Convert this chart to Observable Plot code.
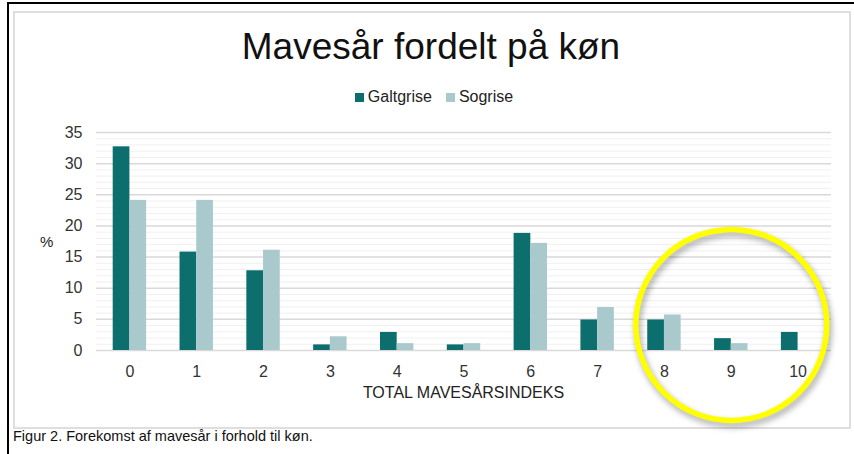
<!DOCTYPE html>
<html>
<head>
<meta charset="utf-8">
<script src="https://cdn.jsdelivr.net/npm/d3@7"></script>
<script src="https://cdn.jsdelivr.net/npm/@observablehq/plot@0.6"></script>
<style>
  html, body { margin: 0; padding: 0; background: #fff; }
  body { width: 854px; height: 454px; position: relative; overflow: hidden;
         font-family: "Liberation Sans", Arial, sans-serif; }
  .abs { position: absolute; }
  #frameL { left: 7px; top: 2px; width: 2px; height: 452px; background: #000; }
  #frameT { left: 7px; top: 2px; width: 847px; height: 2px; background: #000; }
  #box { left: 13px; top: 11px; width: 834px; height: 414px; border: 2px solid #dedede; }
  #title { left: 0; width: 862px; top: 27px; text-align: center; font-size: 37px; color: #111; line-height: 40px; }
  #legend { left: 0; width: 868px; top: 88px; text-align: center; font-size: 16px; color: #222; line-height: 18px; }
  #legend span.sw { display: inline-block; width: 9px; height: 9px; margin-right: 4px; vertical-align: 0px; }
  #legend span.item { margin: 0 7px; }
  #ylab { left: 40px; top: 233px; font-size: 15px; color: #222; }
  #xlab { left: 0; width: 927px; top: 384px; text-align: center; font-size: 16px; color: #222; }
  #caption { left: 13px; top: 428px; font-size: 14.5px; color: #111; }
  #chart { left: 0; top: 0; }
  #chart svg { overflow: visible; background: transparent; }
  #chart g[aria-label="dot"] circle { filter: drop-shadow(2px 4px 3px rgba(0,0,0,0.35)); }
</style>
</head>
<body>
<div class="abs" id="frameL"></div>
<div class="abs" id="frameT"></div>
<div class="abs" id="box"></div>
<div class="abs" id="chart"></div>
<div class="abs" id="title">Mavesår fordelt på køn</div>
<div class="abs" id="legend"></div>
<div class="abs" id="ylab">%</div>
<div class="abs" id="xlab">TOTAL MAVESÅRSINDEKS</div>
<div class="abs" id="caption">Figur 2. Forekomst af mavesår i forhold til køn.</div>
<script>
const categories = ["0","1","2","3","4","5","6","7","8","9","10"];
const seriesNames = ["Galtgrise", "Sogrise"];
const galtgrise = [32.7, 15.8, 12.8, 0.9, 2.9, 0.9, 18.8, 4.9, 4.9, 1.9, 2.9];
const sogrise   = [24.1, 24.1, 16.1, 2.2, 1.1, 1.1, 17.2, 6.9, 5.7, 1.1, 0];
const yTicks = [0, 5, 10, 15, 20, 25, 30, 35];
const yMinor = d3.range(0, 36).filter(v => v % 5 !== 0);
const colors = ["#0c6e6d", "#a9c9cd"];

const data = categories.map((c, i) => ({cat: c, galt: galtgrise[i], sog: sogrise[i]}));

// legend
const legend = document.getElementById("legend");
legend.innerHTML = seriesNames.map((n, i) =>
  `<span class="item"><span class="sw" style="background:${colors[i]}"></span>${n}</span>`).join("");

const W = 854, H = 454, mL = 96, mR = 23, mT = 132, mB = 104;
const step = (W - mL - mR) / categories.length;

const plot = Plot.plot({
  width: W,
  height: H,
  marginLeft: mL,
  marginRight: mR,
  marginTop: mT,
  marginBottom: mB,
  style: {background: "transparent", fontSize: "16px", fontFamily: "Liberation Sans, Arial, sans-serif", color: "#333", overflow: "visible"},
  x: {type: "band", domain: categories, padding: 0, round: false, tickSize: 0, tickPadding: 15, label: null},
  y: {domain: [0, 35], ticks: yTicks, tickSize: 0, tickPadding: 14, label: null},
  marks: [
    Plot.ruleY(yMinor, {stroke: "#f0f0f0", strokeWidth: 1}),
    Plot.ruleY(yTicks, {stroke: "#d9d9d9", strokeWidth: 1.5}),
    Plot.barY(data, {x: "cat", y: "galt", fill: colors[0], insetLeft: step / 4, insetRight: step / 2}),
    Plot.barY(data, {x: "cat", y: "sog", fill: colors[1], insetLeft: step / 2, insetRight: step / 4}),
    Plot.dot([{cat: "9", v: 4.1}], {x: "cat", y: "v", r: 95.5, stroke: "#ffff00", strokeWidth: 5.5, fill: "none"})
  ]
});
document.getElementById("chart").appendChild(plot);
</script>
</body>
</html>
